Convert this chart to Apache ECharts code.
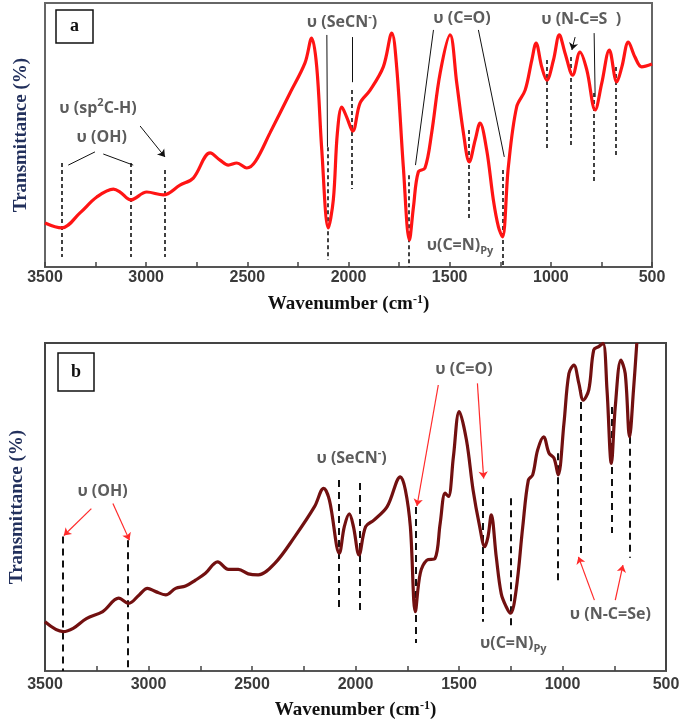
<!DOCTYPE html>
<html><head><meta charset="utf-8">
<script src="https://cdn.jsdelivr.net/npm/echarts@6/dist/echarts.min.js"></script>
<style>html,body{margin:0;padding:0;background:#fff}#c{width:685px;height:721px}</style>
</head><body><div id="c"></div>
<script>
// ---- Panel a spectrum (wavenumber cm-1, relative transmittance) ----
const waveA = [3500,3417,3327,3244,3162,3129,3076,2997,2915,2833,2767,2684,2635,2594,2552,2503,2460,2388,2289,2215,2182,2157,2132,2100,2075,2055,2033,2009,1979,1943,1893,1828,1786,1762,1729,1699,1679,1655,1622,1589,1547,1498,1465,1432,1403,1374,1350,1317,1284,1259,1239,1210,1169,1127,1094,1073,1045,1020,987,958,930,892,856,822,781,748,711,674,649,617,584,551,500];
const transA = [16.7,14.8,20.5,26.5,29.5,28.4,25.4,28.4,27.3,31,33.7,43.2,40.5,38.6,39.4,37.5,40,50.8,65.9,77.3,86.7,75.8,44.3,14.8,25.4,50.8,60.6,56.8,51.5,62.1,67,75.8,88.6,75.8,37.9,10.2,22.7,36,37.5,50.8,73.5,87.9,69.7,50.8,39.8,48.1,54.5,44.3,25.4,15.2,11.4,37.9,60.6,67,78.4,84.8,75.8,70.8,78.4,87.9,81.1,72.7,81.4,74.6,59.5,69.7,82.2,70.1,75.8,85.2,79.5,75.8,76.9];

// ---- Panel b spectrum ----
const waveB = [3500,3412,3364,3300,3221,3144,3096,3045,3005,2965,2917,2869,2821,2773,2725,2666,2614,2566,2518,2470,2390,2294,2198,2154,2126,2078,2054,2030,2010,1983,1951,1911,1847,1783,1759,1735,1711,1687,1655,1616,1591,1567,1551,1527,1499,1464,1432,1400,1376,1360,1344,1320,1296,1272,1251,1224,1192,1165,1144,1120,1091,1065,1041,1021,993,969,945,921,900,873,849,825,804,785,764,745,718,697,676,657,641];
const transB = [15.0,12.0,13.0,16.0,18.1,22.2,20.6,23.2,25.2,24.2,23.2,25.2,25.9,27.7,29.8,33.3,31.0,31.0,29.6,29.3,32.8,40.9,50.1,55.7,52.1,35.9,44.0,47.9,44.0,35.4,44.0,46.0,50.1,59.2,55.2,44.0,18.1,29.8,33.8,34.3,45.0,54.2,53.2,65.3,79.1,70.4,55.2,44.0,37.9,40.9,47.6,34.8,23.6,19.6,17.6,24.7,44.0,58.2,59.8,67.4,71.4,66.4,64.9,59.8,75.5,90.7,93.3,87.7,82.6,85.7,97.9,98.9,99.9,85.7,63.3,80.6,94.8,90.7,71.4,85.7,100];

// ---- Axis ----
const xTickValues = [3500,3000,2500,2000,1500,1000,500];

// ---- Annotations panel a: [wavenumber, yTop, yBottom] ----
const dashA = [[3417,39.4,3.8],[3076,39.4,3.8],[2907,36.7,3.8],[2103,45.4,2.7],[1984,67,29.5],[1704,34.8,0],[1408,51.9,18.6],[1239,36.7,0],[1020,78.4,44.3],[901,79.5,45.4],[786,65.9,31.8],[678,75.8,41.7]];
const linkA = [[3385,38.6,3253,43.6],[3212,42.8,3064,38.6],[2107,87.9,2104,45.5],[1979,87.1,1979,70],[1580,89.8,1669,38.6],[1358,89.8,1230,41.7],[786,88.6,781,64.4]];
const arrowA = [[3030,53.4,2907,41.7],[880,87.1,896,82.2]];
const labelPosA = [[3238,60.2],[3220,49.2],[2032,92.8],[1439,94.3],[1449,8.3],[850,93.6]];
const labelTextA = ['{t|υ (sp}{sup|2}{t|C-H)}','{t|υ (OH)}','{t|υ (SeCN}{sup|-}{t|)}','{t|υ (C=O)}','{t|υ(C=N)}{sub|Py}','{t|υ (N-C=S  )}'];

// ---- Annotations panel b ----
const dashB = [[3412,41.0,0],[3098,39.9,0],[2082,58.2,18.6],[1980,57.3,17.1],[1711,50,8.5],[1383,56.1,15.0],[1251,52.7,12.5],[1021,66.4,26.8],[912,85.7,36.0],[764,80.5,42.1],[676,71.4,34.5]];
const arrowB = [[3276,49.5,3409,41.3],[3172,51.1,3092,39.9],[1600,87.2,1703,50.3],[1411,87.7,1381,58.7],[846,21.6,923,34.8],[745,21.6,708,32.3]];
const labelPosB = [[3222,54.7],[2019,64.9],[1476,91.8],[1238,8.5],[769,17.1]];
const labelTextB = ['{t|υ (OH)}','{t|υ (SeCN}{sup|-}{t|)}','{t|υ (C=O)}','{t|υ(C=N)}{sub|Py}','{t|υ (N-C=Se)}'];

const zip = (a, b) => a.map((v, i) => [v, b[i]]);
const rich = {
  t: {fontFamily: 'Open Sans', fontWeight: 'bold', fontSize: 16, color: '#333', lineHeight: 22},
  sup: {fontFamily: 'Open Sans', fontWeight: 'bold', fontSize: 11, color: '#333', lineHeight: 22, verticalAlign: 'top', padding: [0,0,10,0]},
  sub: {fontFamily: 'Open Sans', fontWeight: 'bold', fontSize: 11, color: '#333', lineHeight: 22, verticalAlign: 'bottom', padding: [8,0,0,0]}
};
const nameRich = {
  n: {fontFamily: 'Liberation Serif', fontWeight: 'bold', fontSize: 19, color: '#111'},
  s: {fontFamily: 'Liberation Serif', fontWeight: 'bold', fontSize: 12, color: '#111', padding: [0,0,8,0]}
};

function xAxisCfg(gi, gap, margin) {
  return {
    gridIndex: gi, type: 'value', inverse: true, min: 500, max: 3500, interval: 500,
    axisLine: {show: true, lineStyle: {color: '#555', width: 2}},
    axisTick: {show: true, inside: true, length: 5, lineStyle: {color: '#444', width: 1.5}},
    minorTick: {show: true, splitNumber: 2, length: 5, lineStyle: {color: '#444', width: 1.5}},
    splitLine: {show: false},
    axisLabel: {margin: margin, fontFamily: 'Liberation Sans', fontWeight: 'bold', fontSize: 16, color: '#3a3a3a',
      formatter: v => String(v)},
    name: '{n|Wavenumber (cm}{s|-1}{n|)}', nameLocation: 'middle', nameGap: gap,
    nameTextStyle: {rich: nameRich}
  };
}
function yAxisCfg(gi, gap) {
  return {
    gridIndex: gi, type: 'value', min: 0, max: 100,
    axisLine: {show: false}, axisTick: {show: false}, axisLabel: {show: false}, splitLine: {show: false},
    name: 'Transmittance (%)', nameLocation: 'middle', nameGap: gap, nameRotate: 90,
    nameTextStyle: {fontFamily: 'Liberation Serif', fontWeight: 'bold', fontSize: 19, color: '#22305c'}
  };
}
function linesSeries(gi, arr, style, arrow) {
  return {
    type: 'lines', coordinateSystem: 'cartesian2d', xAxisIndex: gi, yAxisIndex: gi, silent: true,
    symbol: arrow ? ['none', 'arrow'] : ['none', 'none'], symbolSize: 7,
    lineStyle: Object.assign({opacity: 1, curveness: 0}, style), z: 3,
    data: arr.map(d => ({coords: d.length === 3 ? [[d[0], d[1]], [d[0], d[2]]] : [[d[0], d[1]], [d[2], d[3]]]}))
  };
}
function labelSeries(gi, pos, texts) {
  return {
    type: 'scatter', xAxisIndex: gi, yAxisIndex: gi, symbolSize: 0, silent: true, z: 5,
    data: pos.map((p, i) => ({value: p, name: texts[i]})),
    label: {show: true, position: 'inside', formatter: '{b}', rich: rich}
  };
}

const chart = echarts.init(document.getElementById('c'), null, {renderer: 'canvas'});
chart.setOption({
  animation: false,
  grid: [
    {left: 45, top: 3, width: 607, height: 264, show: true, borderColor: '#666', borderWidth: 2},
    {left: 40, top: 343, width: 626, height: 328, show: true, borderColor: '#444', borderWidth: 2}
  ],
  xAxis: [xAxisCfg(0, 27, 3), xAxisCfg(1, 29, 6)],
  yAxis: [yAxisCfg(0, 14), yAxisCfg(1, 18)],
  graphic: [
    {type: 'rect', shape: {x: 56, y: 10, width: 37, height: 33}, style: {fill: '#fff', stroke: '#111', lineWidth: 1.5}, z: 10},
    {type: 'text', x: 74.5, y: 26.5, style: {text: 'a', fontFamily: 'Liberation Serif', fontWeight: 'bold', fontSize: 18, fill: '#111', align: 'center', verticalAlign: 'middle'}, z: 11},
    {type: 'rect', shape: {x: 58, y: 353, width: 36, height: 38}, style: {fill: '#fff', stroke: '#111', lineWidth: 1.5}, z: 10},
    {type: 'text', x: 76, y: 372, style: {text: 'b', fontFamily: 'Liberation Serif', fontWeight: 'bold', fontSize: 18, fill: '#111', align: 'center', verticalAlign: 'middle'}, z: 11}
  ],
  series: [
    {type: 'line', xAxisIndex: 0, yAxisIndex: 0, data: zip(waveA, transA), showSymbol: false, smooth: 0.35,
      lineStyle: {color: '#ff1414', width: 3.2}, z: 4},
    linesSeries(0, dashA, {color: '#111', width: 1.6, type: [4, 3]}, false),
    linesSeries(0, linkA, {color: '#111', width: 1}, false),
    linesSeries(0, arrowA, {color: '#111', width: 1}, true),
    labelSeries(0, labelPosA, labelTextA),

    {type: 'line', xAxisIndex: 1, yAxisIndex: 1, data: zip(waveB, transB), showSymbol: false, smooth: 0.35,
      lineStyle: {color: '#721010', width: 3.2}, z: 4, clip: true},
    linesSeries(1, dashB, {color: '#111', width: 2, type: [7, 5]}, false),
    linesSeries(1, arrowB, {color: '#ff2a2a', width: 1.2}, true),
    labelSeries(1, labelPosB, labelTextB)
  ]
});
</script></body></html>
